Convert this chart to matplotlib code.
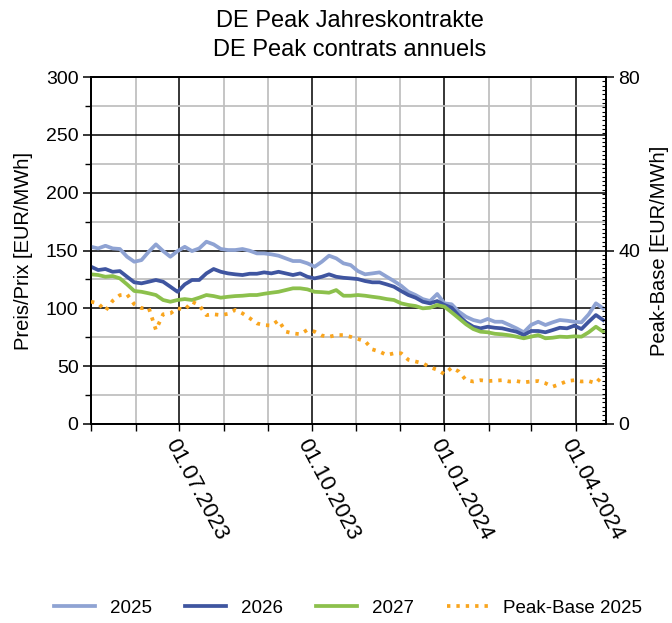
import matplotlib
matplotlib.use("Agg")
import matplotlib.pyplot as plt
import matplotlib.dates as mdates
from matplotlib.ticker import MultipleLocator
import pandas as pd
from matplotlib import font_manager

names = {f.name for f in font_manager.fontManager.ttflist}
FONT = "Liberation Sans" if "Liberation Sans" in names else "DejaVu Sans"
plt.rcParams["font.family"] = [FONT, "DejaVu Sans"]

# ---------------- data ----------------
start_date = "2023-05-01"
n_points = 72          # one reading every 5 calendar days
dates = pd.date_range(start_date, periods=n_points, freq="5D")

cal_2025 = [153.2, 151.8, 154.1, 151.8, 151.3, 144.6, 140.3, 141.7, 148.9, 155.3, 149.5, 144.6, 149.5, 153.2, 149.5, 151.8, 157.6, 155.3, 151.3,
            150.4, 150.4, 151.3, 149.8, 147.5, 147.5, 146.7, 145.5, 143.2, 140.9, 140.9, 138.9, 136.0, 140.3, 145.5, 143.2, 138.9, 137.4,
            132.2, 129.4, 130.2, 131.1, 127.3, 123.6, 119.5, 114.3, 111.5, 108.0, 106.3, 112.4, 104.3, 103.5, 97.1, 92.7, 89.9, 88.4,
            90.8, 88.4, 88.4, 85.6, 82.7, 79.3, 85.6, 88.4, 85.6, 87.9, 89.9, 89.3, 88.4, 87.9, 94.8, 104.3, 100.0]
cal_2026 = [136.0, 133.1, 134.0, 131.6, 132.2, 127.3, 122.5, 121.6, 123.0, 124.5, 123.0, 118.7, 114.3, 120.7, 124.5, 124.5, 130.2, 134.0, 131.6,
            130.2, 129.4, 128.8, 129.9, 129.9, 131.1, 130.2, 131.6, 130.2, 128.8, 130.2, 127.3, 125.9, 127.3, 129.4, 127.3, 126.4, 125.9,
            125.3, 123.6, 122.5, 122.5, 120.7, 118.7, 115.0, 111.5, 109.2, 105.7, 104.3, 106.3, 102.9, 100.5, 93.6, 87.9, 84.1, 82.7,
            84.1, 83.2, 82.7, 81.2, 79.8, 76.9, 80.4, 80.4, 79.3, 81.2, 83.2, 82.7, 85.0, 82.1, 88.4, 94.2, 89.9]
cal_2027 = [129.4, 128.8, 127.3, 127.9, 125.9, 120.7, 115.0, 114.3, 113.0, 111.5, 107.2, 105.7, 107.2, 108.0, 107.2, 109.2, 111.5, 110.6, 109.2,
            110.0, 110.6, 110.9, 111.5, 111.5, 112.6, 113.5, 114.3, 115.8, 117.3, 117.3, 116.4, 114.3, 114.0, 113.5, 115.8, 110.9, 110.9,
            111.5, 110.9, 110.0, 109.2, 108.0, 107.2, 104.3, 102.9, 102.0, 100.0, 100.5, 102.9, 101.4, 96.5, 91.4, 86.2, 82.1, 79.8,
            79.3, 78.0, 77.5, 76.7, 75.5, 74.1, 75.5, 76.9, 74.1, 74.6, 75.5, 75.2, 75.8, 75.5, 79.3, 84.1, 79.8]
peak_base_2025 = [28.2, 27.8, 26.1, 28.4, 29.7, 29.9, 27.6, 26.7, 26.8, 21.7, 25.3, 25.5, 26.7, 26.3, 28.2, 27.4, 25.1, 25.3, 25.1,
                  25.4, 26.3, 25.5, 24.4, 23.2, 22.8, 22.7, 23.9, 21.3, 20.9, 20.7, 21.7, 21.3, 20.4, 20.1, 20.5, 20.5, 20.1,
                  19.6, 19.1, 17.2, 16.7, 15.9, 16.3, 16.3, 14.8, 14.4, 14.0, 13.1, 12.5, 11.5, 13.0, 12.1, 10.1, 9.8, 10.1,
                  9.9, 10.0, 10.1, 9.8, 9.9, 9.6, 9.8, 9.9, 9.4, 8.6, 9.2, 9.9, 10.1, 9.8, 9.9, 9.4, 11.3]

series_labels = ["2025", "2026", "2027", "Peak-Base 2025"]
title_lines = ["DE Peak Jahreskontrakte", "DE Peak contrats annuels"]
left_label = "Preis/Prix [EUR/MWh]"
right_label = "Peak-Base [EUR/MWh]"
x_start, x_end = "2023-05-01", "2024-04-22"

# ---------------- figure ----------------
fig = plt.figure(figsize=(6.72, 6.23), dpi=100)
ax = fig.add_axes([91 / 672, 1 - 424 / 623, (606 - 91) / 672, (424 - 77) / 623])
ax2 = ax.twinx()

c25, c26, c27, cpb = "#8FA3D3", "#3F55A0", "#8CC04C", "#F9A51E"
l1, = ax.plot(dates, cal_2025, color=c25, lw=2.7, zorder=3, label=series_labels[0])
l2, = ax.plot(dates, cal_2026, color=c26, lw=2.7, zorder=3, label=series_labels[1])
l3, = ax.plot(dates, cal_2027, color=c27, lw=2.7, zorder=3, label=series_labels[2])
l4, = ax2.plot(dates, peak_base_2025, color=cpb, lw=2.7, ls=(0, (0.9, 1.6)), zorder=3,
               label=series_labels[3])

ax.set_xlim(pd.Timestamp(x_start), pd.Timestamp(x_end))
ax.set_ylim(0, 300)
ax2.set_ylim(0, 80)

# grid
ax.yaxis.set_major_locator(MultipleLocator(50))
ax.yaxis.set_minor_locator(MultipleLocator(25))
ax.xaxis.set_major_locator(mdates.MonthLocator(bymonth=[1, 4, 7, 10], bymonthday=1))
ax.xaxis.set_minor_locator(mdates.MonthLocator(bymonthday=1))
ax.xaxis.set_major_formatter(mdates.DateFormatter("%d.%m.%Y"))
ax.grid(which="minor", color="#C0C0C0", lw=1.3, zorder=0)
ax.grid(which="major", color="black", lw=1.1, zorder=1)
ax.set_axisbelow(True)

for sp in ["left", "bottom", "right", "top"]:
    ax.spines[sp].set_linewidth(1.3)
    ax2.spines[sp].set_linewidth(1.3)

ax.tick_params(axis="y", which="major", length=6, width=1.1, labelsize=14, pad=3)
ax.tick_params(axis="y", which="minor", length=4, width=1.0)
ax.tick_params(axis="x", which="both", length=5, width=1.0, labelsize=16, pad=3)
for lab in ax.get_xticklabels():
    lab.set_rotation(-62)
    lab.set_rotation_mode("anchor")
    lab.set_ha("left")
    lab.set_va("top")

ax2.yaxis.set_major_locator(MultipleLocator(40))
ax2.yaxis.set_minor_locator(MultipleLocator(1))
ax2.tick_params(axis="y", which="major", length=6, width=1.1, labelsize=14, pad=3)
ax2.tick_params(axis="y", which="minor", direction="in", length=3, width=0.8)

ax.set_ylabel(left_label, fontsize=14.5, labelpad=9)
ax2.set_ylabel(right_label, fontsize=14.5, labelpad=7)

fig.text(0.52, 1 - 21 / 623, title_lines[0], ha="center", va="center", fontsize=17)
fig.text(0.52, 1 - 50 / 623, title_lines[1], ha="center", va="center", fontsize=17)

fig.legend(handles=[l1, l2, l3, l4], loc="center", bbox_to_anchor=(0.518, 1 - 608 / 623),
           ncol=4, frameon=False, fontsize=13.5, handlelength=2.2, handletextpad=0.8,
           columnspacing=1.75)

fig.savefig("out.png", dpi=100)
